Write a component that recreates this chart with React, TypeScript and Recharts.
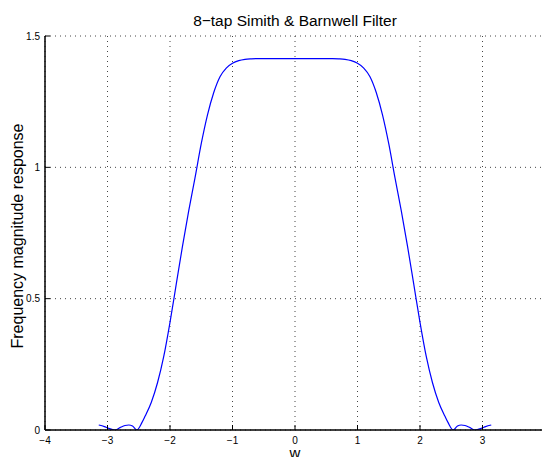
import React from 'react';
import { LineChart, Line, XAxis, YAxis, CartesianGrid } from 'recharts';

const W = [
  -3.14, -3.05, -2.98, -2.88, -2.8, -2.72, -2.66, -2.6, -2.53, -2.45, -2.4, -2.3, -2.2, -2.1,
  -2.0, -1.9, -1.8, -1.7, -1.6, -1.5, -1.4, -1.3, -1.2, -1.1, -1.0, -0.9, -0.8, -0.7, -0.6,
  -0.4, -0.2, 0, 0.2, 0.4, 0.6, 0.7, 0.8, 0.9, 1.0, 1.1, 1.2, 1.3, 1.4, 1.5, 1.6, 1.7, 1.8,
  1.9, 2.0, 2.1, 2.2, 2.3, 2.4, 2.45, 2.53, 2.6, 2.66, 2.72, 2.8, 2.88, 2.98, 3.05, 3.14,
];
const MAG = [
  0.019, 0.013, 0.006, 0.0, 0.009, 0.017, 0.019, 0.015, 0.0, 0.028, 0.052, 0.105, 0.18, 0.28,
  0.41, 0.555, 0.7, 0.835, 0.96, 1.09, 1.2, 1.285, 1.345, 1.378, 1.396, 1.406, 1.411, 1.413, 1.414,
  1.414, 1.414, 1.414, 1.414, 1.414, 1.414, 1.413, 1.411, 1.406, 1.396, 1.378, 1.345, 1.285, 1.2,
  1.09, 0.96, 0.835, 0.7, 0.555, 0.41, 0.28, 0.18, 0.105, 0.052, 0.028, 0.0, 0.015, 0.019, 0.017,
  0.009, 0.0, 0.006, 0.013, 0.019,
];
const X_TICKS = [-4, -3, -2, -1, 0, 1, 2, 3, 4];
const Y_TICKS = [0, 0.5, 1, 1.5];
const TITLE = '8\u2212tap Simith & Barnwell Filter';
const X_LABEL = 'w';
const Y_LABEL = 'Frequency magnitude response';

const data = W.map((w, i) => ({ w, mag: MAG[i] }));

const FONT = '"Liberation Sans", Arial, Helvetica, sans-serif';

const fmtX = (v: number) => (v < 0 ? '\u2212' + Math.abs(v) : String(v));

export default function App() {
  return (
    <div
      style={{
        position: 'absolute',
        left: 0,
        top: 0,
        width: 542,
        height: 457,
        overflow: 'hidden',
        background: '#fff',
        fontFamily: FONT,
      }}
    >
      <LineChart
        width={562}
        height={457}
        data={data}
        margin={{ top: 36, right: 17, bottom: 7, left: 0 }}
      >
        <CartesianGrid
          stroke="#444"
          strokeDasharray="1 4"
          verticalValues={X_TICKS}
          horizontalValues={Y_TICKS}
        />
        <XAxis
          dataKey="w"
          type="number"
          domain={[-4, 4]}
          ticks={X_TICKS}
          tickFormatter={fmtX}
          height={20}
          tickSize={-5}
          tickMargin={12}
          axisLine={{ stroke: '#000', strokeWidth: 1.5 }}
          tickLine={{ stroke: '#000' }}
          tick={{ fill: '#000', fontSize: 10, fontFamily: FONT }}
          allowDataOverflow
        />
        <XAxis
          xAxisId="top"
          orientation="top"
          dataKey="w"
          type="number"
          domain={[-4, 4]}
          ticks={X_TICKS}
          height={0}
          tickSize={-5}
          tick={false}
          axisLine={{ stroke: '#000', strokeWidth: 1.5 }}
          tickLine={{ stroke: '#000' }}
        />
        <YAxis
          type="number"
          domain={[0, 1.5]}
          ticks={Y_TICKS}
          width={45}
          tickSize={-5}
          tickMargin={10}
          axisLine={{ stroke: '#000', strokeWidth: 1.5 }}
          tickLine={{ stroke: '#000' }}
          tick={{ fill: '#000', fontSize: 10, fontFamily: FONT }}
          allowDataOverflow
        />
        <YAxis
          yAxisId="right"
          orientation="right"
          type="number"
          domain={[0, 1.5]}
          ticks={Y_TICKS}
          width={0}
          tickSize={-5}
          tick={false}
          axisLine={{ stroke: '#000', strokeWidth: 1.5 }}
          tickLine={{ stroke: '#000' }}
        />
        <Line
          type="monotone"
          dataKey="mag"
          stroke="#0000ff"
          strokeWidth={1.2}
          dot={false}
          isAnimationActive={false}
        />
      </LineChart>
      <svg
        width={542}
        height={457}
        style={{ position: 'absolute', left: 0, top: 0, pointerEvents: 'none' }}
      >
        <text x={295} y={26} textAnchor="middle" fontSize={15.5} fontFamily={FONT} fill="#000">
          {TITLE}
        </text>
        <text
          x={23}
          y={236}
          textAnchor="middle"
          fontSize={16}
          fontFamily={FONT}
          fill="#000"
          transform="rotate(-90, 23, 236)"
        >
          {Y_LABEL}
        </text>
        <text x={295} y={458} textAnchor="middle" fontSize={15} fontFamily={FONT} fill="#000">
          {X_LABEL}
        </text>
      </svg>
    </div>
  );
}
